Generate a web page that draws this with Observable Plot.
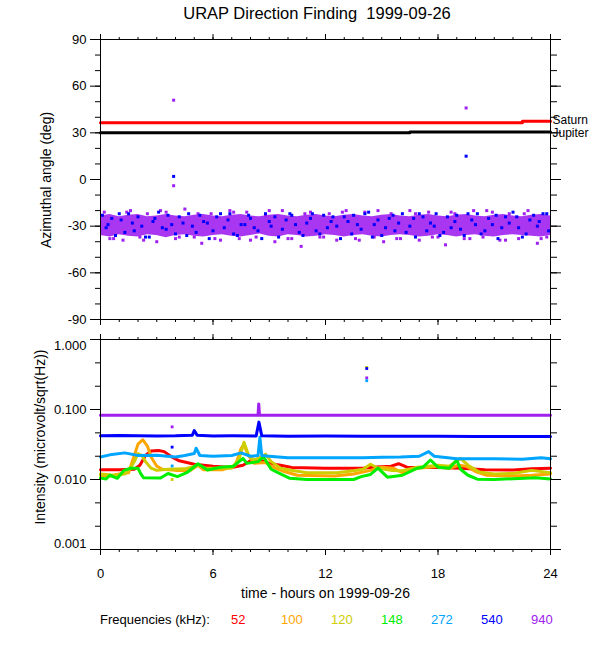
<!DOCTYPE html>
<html><head><meta charset="utf-8">
<script src="https://cdn.jsdelivr.net/npm/d3@7"></script>
<script src="https://cdn.jsdelivr.net/npm/@observablehq/plot@0.6"></script>
<style>
body{margin:0;background:#fff;}
#wrap{position:relative;width:600px;height:650px;font-family:"Liberation Sans",Arial,Helvetica,sans-serif;color:#000;overflow:hidden;}
#wrap svg{position:absolute;left:0;overflow:visible;}
.t{position:absolute;white-space:nowrap;line-height:20px;}
</style></head><body>
<div id="wrap">
  <div class="t" style="left:0;width:634px;top:3px;text-align:center;font-size:16.5px;">URAP Direction Finding&nbsp; 1999-09-26</div>
  <div class="t" style="left:46px;top:180px;font-size:14px;transform:translate(-50%,-50%) rotate(-90deg);">Azimuthal angle (deg)</div>
  <div class="t" style="left:40px;top:437px;font-size:14px;transform:translate(-50%,-50%) rotate(-90deg);">Intensity (microvolt/sqrt(Hz))</div>
  <div class="t" style="left:0;width:651px;top:583px;text-align:center;font-size:14px;">time - hours on 1999-09-26</div>
  <div id="legend"></div>
</div>
<script>
// ---------- data ----------
const hourMajor = [0, 6, 12, 18, 24];
const hourMinor = d3.range(0, 25, 1);
const angleMajor = [-90, -60, -30, 0, 30, 60, 90];
const angleMinor = d3.range(-90, 91, 10);
const intMajor = [1, 0.1, 0.01, 0.001];
const intMinor = [0.464, 0.215, 0.0464, 0.0215, 0.00464, 0.00215];

// planets (top panel)
const saturnHours = [0, 22.5, 22.5, 24];
const saturnAngles = [36.5, 36.5, 37.5, 37.5];
const jupiterHours = [0, 16.5, 16.5, 24];
const jupiterAngles = [30, 30, 30.5, 30.5];
const planetNames = ["Saturn", "Jupiter"];
const planetLabelAngles = [37.5, 30.5];

// direction-finding band (dense core of the 940/540 kHz points), every half hour
const bandHours = d3.range(0, 24.01, 0.5);
const bandLo = [-36,-37,-35.5,-36.5,-37,-35.5,-36,
  -37.5,-36,-35.5,-36.5,-37,-36,-35.5,
  -36.5,-37,-36,-35,-36.5,-37,-35.5,
  -36,-37,-36.5,-35.5,-36,-37,-36,
  -35.5,-36.5,-37,-36,-35.5,-36,-37,
  -36.5,-35.5,-36,-37,-36,-35.5,-36.5,
  -37,-36,-35.5,-36,-36.5,-37,-36];
const bandHi = [-23.5,-22.5,-24,-23,-22.5,-24,-23.5,
  -22.5,-23.5,-24,-23,-22.5,-23.5,-24,
  -23,-22.5,-23.5,-24,-23,-22.5,-23.5,
  -24,-23,-22.5,-23.5,-24,-23,-22.5,
  -23.5,-24,-23,-22.5,-23.5,-24,-23,
  -22.5,-23.5,-24,-23,-22.5,-23.5,-24,
  -23,-22.5,-23.5,-24,-23,-22.5,-23.5];

// 540 kHz direction points
const blueHours = [0.1,0.4,0.8,1.1,1.5,1.8,2.2,2.6,2.9,3.3,3.6,4.0,4.4,4.7,5.1,5.5,5.8,6.2,6.6,6.9,7.3,7.7,8.0,8.4,8.8,9.1,9.5,9.9,10.2,10.6,11.0,11.3,11.7,12.1,12.4,12.8,13.2,13.5,13.9,14.3,14.6,15.0,15.4,15.7,16.1,16.5,16.8,17.2,17.6,17.9,18.3,18.7,19.0,19.4,19.8,20.1,20.5,20.9,21.2,21.6,22.0,22.3,22.7,23.1,23.4,23.8,
  0.3,0.6,1.0,1.3,1.7,2.0,2.4,2.8,3.1,3.5,3.8,4.2,4.6,4.9,5.3,5.7,6.0,6.4,6.8,7.1,7.5,7.9,8.2,8.6,9.0,9.3,9.7,10.1,10.4,10.8,11.2,11.5,11.9,12.3,12.6,13.0,13.4,13.7,14.1,14.5,14.8,15.2,15.6,15.9,16.3,16.7,17.0,17.4,17.8,18.1,18.5,18.9,19.2,19.6,20.0,20.3,20.7,21.1,21.4,21.8,22.2,22.5,22.9,23.3,23.6,23.9,
  3.9, 19.5];
const blueAngles = [-23,-29,-36,-26,-22,-33,-30,-37,-25,-31,-23,-35,-28,-22,-34,-27,-38,-24,-31,-22,-36,-29,-25,-33,-22,-30,-37,-26,-23,-34,-28,-22,-35,-31,-24,-38,-27,-23,-32,-21,-29,-36,-25,-33,-22,-30,-37,-24,-28,-22,-34,-31,-23,-36,-26,-22,-33,-29,-38,-24,-21,-31,-35,-23,-27,-22,
  -31,-25,-22,-34,-28,-24,-37,-27,-21,-32,-29,-24,-36,-30,-23,-28,-33,-22,-26,-35,-29,-23,-31,-38,-27,-24,-32,-22,-29,-36,-25,-33,-23,-27,-30,-24,-35,-29,-22,-37,-26,-31,-23,-28,-34,-25,-22,-33,-30,-36,-24,-27,-32,-22,-29,-35,-25,-23,-31,-28,-24,-37,-26,-30,-22,-33,
  2, 15];

// 940 kHz scattered points
const purpleHours = [0.2,0.7,1.2,1.6,2.1,2.5,3.0,3.5,4.0,4.5,5.0,5.4,5.9,6.4,6.9,7.4,7.8,8.3,8.8,9.3,9.7,10.2,10.7,11.2,11.7,12.2,12.6,13.1,13.6,14.1,14.6,15.1,15.5,16.0,16.5,17.0,17.5,18.0,18.4,18.9,19.4,19.9,20.4,20.9,21.3,21.8,22.3,22.8,23.3,23.8,
  0.5,1.4,2.3,3.2,4.2,5.2,6.1,7.1,8.0,9.0,10.0,10.9,11.9,12.9,13.8,14.8,15.8,16.8,17.7,18.7,19.7,20.6,21.6,22.6,23.5,
  3.9, 3.9, 19.5];
const purpleAngles = [-21,-38,-39,-20,-37,-22,-40,-21,-38,-19,-37,-41,-22,-39,-20,-38,-21,-37,-23,-40,-20,-38,-43,-21,-37,-22,-39,-20,-38,-21,-37,-40,-22,-38,-20,-39,-21,-37,-42,-22,-38,-20,-37,-21,-39,-22,-38,-20,-41,-37,
  -38,-21,-39,-20,-37,-22,-38,-21,-39,-20,-38,-22,-37,-21,-39,-20,-38,-22,-37,-21,-38,-20,-39,-22,-38,
  51, -4, 46];

// intensities (bottom panel)
const freqs = ["52", "100", "120", "148", "272", "540", "940"];
const freqColors = ["#ff0000", "#ffa500", "#cdcd00", "#00ee00", "#00a5ff", "#0000ff", "#a020f0"];

const h52 = [0,1.0,1.8,2.1,2.4,2.7,3.1,3.4,3.8,4.2,5.0,6.0,7.0,7.6,8.0,8.5,9.0,9.6,10.2,12,14.0,14.5,15.5,15.9,16.4,17.2,18.0,19.2,20.5,22,23,24];
const v52 = [0.0138,0.0138,0.014,0.016,0.022,0.0255,0.026,0.025,0.021,0.0185,0.0165,0.0155,0.0148,0.016,0.0185,0.019,0.017,0.016,0.0148,0.0145,0.0145,0.015,0.0155,0.0168,0.0148,0.0148,0.0148,0.0145,0.0138,0.0137,0.0142,0.0145];

const h100 = [0,0.5,1.0,1.5,1.8,2.0,2.25,2.5,2.7,3.0,3.3,4.0,4.8,5.2,5.5,6.5,7.2,7.5,7.65,7.9,8.2,8.8,9.2,9.8,10.5,12.5,13.5,14.4,15.0,15.6,16.1,16.9,17.5,18.0,18.6,19.1,19.5,20.0,20.6,22.0,23.0,24];
const v100 = [0.0115,0.0112,0.012,0.0125,0.022,0.032,0.037,0.03,0.021,0.0155,0.014,0.0135,0.0135,0.016,0.0138,0.0138,0.016,0.028,0.031,0.022,0.017,0.0175,0.015,0.013,0.0115,0.0112,0.012,0.0135,0.015,0.0145,0.0125,0.0145,0.015,0.0155,0.0145,0.016,0.0155,0.013,0.0115,0.0112,0.0115,0.012];

const h120 = [0,0.7,1.3,1.6,1.8,2.0,2.2,2.4,2.7,3.0,3.6,4.5,5.2,5.6,7.0,7.4,7.65,7.9,8.2,8.6,8.8,9.1,9.6,10.1,11,12.6,13.5,14.0,14.4,14.8,15.5,16.1,16.9,17.5,18.0,18.6,19.2,19.6,20.2,21,22,23,24];
const v120 = [0.012,0.0115,0.012,0.0145,0.018,0.0235,0.022,0.018,0.0145,0.0135,0.014,0.0142,0.016,0.0145,0.0145,0.02,0.034,0.022,0.019,0.021,0.023,0.018,0.0145,0.0137,0.0125,0.0125,0.0133,0.014,0.0165,0.0145,0.0135,0.0133,0.015,0.0155,0.016,0.0155,0.02,0.016,0.0128,0.012,0.0122,0.0135,0.0125];

const h148 = [0,0.3,0.5,0.9,1.25,1.6,2.0,2.15,2.3,3.2,3.6,4.1,4.6,5.2,5.7,6.4,7.1,7.6,7.8,8.4,8.7,9.1,9.6,10.1,11,13.5,13.9,14.4,14.8,15.3,16.1,16.9,17.2,17.6,18.0,18.6,19.0,19.2,19.6,20.1,21,23.2,24];
const v148 = [0.0105,0.0102,0.0115,0.0104,0.0135,0.0145,0.0145,0.012,0.0106,0.0105,0.0122,0.011,0.0125,0.0168,0.0137,0.015,0.0155,0.02,0.017,0.018,0.021,0.014,0.012,0.0104,0.01,0.01,0.011,0.0118,0.0145,0.0108,0.0115,0.0145,0.015,0.019,0.015,0.0145,0.019,0.014,0.0115,0.0101,0.01,0.0106,0.0102];

const h272 = [0,0.5,1.3,2.0,3,4.0,4.5,5.0,5.1,5.3,6,7,7.5,8.0,8.4,8.5,8.6,9,10,12,14,15,16,17,17.5,17.8,19,21,22.5,23.5,24];
const v272 = [0.021,0.0225,0.024,0.022,0.0222,0.021,0.022,0.0235,0.028,0.022,0.0215,0.022,0.024,0.0215,0.022,0.04,0.022,0.0215,0.0205,0.0205,0.0205,0.0208,0.021,0.0215,0.025,0.0215,0.0198,0.0198,0.0195,0.0205,0.0198];

const h540 = [0,1,2,3,4,4.9,5.0,5.15,6,7,8.3,8.45,8.6,10,12,14,16,18,20,22,24];
const v540 = [0.042,0.0425,0.042,0.0418,0.042,0.043,0.05,0.043,0.0418,0.042,0.0418,0.066,0.042,0.0415,0.0418,0.0415,0.0415,0.0415,0.041,0.041,0.041];

const h940 = [0,4,8,8.4,8.44,8.48,12,16,20,24];
const v940 = [0.083,0.083,0.083,0.083,0.12,0.083,0.083,0.083,0.083,0.083];

// isolated intensity points
const spotHours = [3.82, 3.82, 3.82, 3.82, 14.2, 14.2, 14.2, 14.2, 8.5, 8.5];
const spotValues = [0.0565, 0.029, 0.0156, 0.0100, 0.40, 0.385, 0.283, 0.258, 0.03, 0.035];
const spotFreqs = ["940", "540", "272", "120", "120", "540", "940", "272", "272", "272"];

// ---------- build tables ----------
const font = '"Liberation Sans",Arial,Helvetica,sans-serif';
const pts = (hs, vs) => hs.map((h, i) => ({h, v: vs[i]}));
const band = bandHours.map((h, i) => ({h, lo: bandLo[i], hi: bandHi[i]}));
const blue = pts(blueHours, blueAngles);
const purple = pts(purpleHours, purpleAngles);
const saturn = pts(saturnHours, saturnAngles);
const jupiter = pts(jupiterHours, jupiterAngles);
const planetLabels = planetNames.map((n, i) => ({h: 24, v: planetLabelAngles[i], n, dy: i === 0 ? -1.5 : 1.5}));
const colorOf = Object.fromEntries(freqs.map((f, i) => [f, freqColors[i]]));
const series = {
  "52": pts(h52, v52), "100": pts(h100, v100), "120": pts(h120, v120), "148": pts(h148, v148),
  "272": pts(h272, v272), "540": pts(h540, v540), "940": pts(h940, v940)
};
const spots = spotHours.map((h, i) => ({h, v: spotValues[i], f: spotFreqs[i]}));
const blank = () => "";

const wrap = document.getElementById("wrap");

const topPlot = Plot.plot({
  width: 600, height: 330,
  marginTop: 39, marginBottom: 11, marginLeft: 100, marginRight: 50,
  style: {fontFamily: font, fontSize: "13px", background: "transparent", color: "#000"},
  x: {domain: [0, 24]},
  y: {domain: [-90, 90]},
  marks: [
    Plot.areaY(band, {x: "h", y1: "lo", y2: "hi", fill: "#a020f0", fillOpacity: 0.9}),
    Plot.dot(purple, {x: "h", y: "v", symbol: "square", r: 1.7, fill: "#a020f0"}),
    Plot.dot(blue, {x: "h", y: "v", symbol: "square", r: 1.7, fill: "#0000ff"}),
    Plot.line(saturn, {x: "h", y: "v", stroke: "#ff0000", strokeWidth: 3}),
    Plot.line(jupiter, {x: "h", y: "v", stroke: "#000", strokeWidth: 3}),
    Plot.text(planetLabels.slice(0, 1), {x: "h", y: "v", text: "n", textAnchor: "start", dx: 2, dy: -1.5, fontSize: 12, fill: "#000"}),
    Plot.text(planetLabels.slice(1), {x: "h", y: "v", text: "n", textAnchor: "start", dx: 2, dy: 1.5, fontSize: 12, fill: "#000"}),
    Plot.frame({stroke: "#000"}),
    Plot.axisX(hourMinor, {anchor: "top", tickSize: 3, tickFormat: blank, label: null}),
    Plot.axisX(hourMajor, {anchor: "top", tickSize: 6, tickFormat: blank, label: null}),
    Plot.axisX(hourMinor, {anchor: "bottom", tickSize: 3, tickFormat: blank, label: null}),
    Plot.axisX(hourMajor, {anchor: "bottom", tickSize: 6, tickFormat: blank, label: null}),
    Plot.axisY(angleMinor, {anchor: "left", tickSize: 5, tickFormat: blank, label: null}),
    Plot.axisY(angleMajor, {anchor: "left", tickSize: 10, tickPadding: 4, tickFormat: d => String(d), label: null}),
    Plot.axisY(angleMinor, {anchor: "right", tickSize: 6, tickFormat: blank, label: null}),
    Plot.axisY(angleMajor, {anchor: "right", tickSize: 10, tickFormat: blank, label: null})
  ]
});
topPlot.style.top = "0px";
wrap.appendChild(topPlot);

const lineMarks = freqs.map(f => Plot.line(series[f], {x: "h", y: "v", stroke: colorOf[f], strokeWidth: 3}));
const bottomPlot = Plot.plot({
  width: 600, height: 320,
  marginTop: 9, marginBottom: 101, marginLeft: 100, marginRight: 50,
  style: {fontFamily: font, fontSize: "13px", background: "transparent", color: "#000"},
  x: {domain: [0, 24]},
  y: {type: "log", domain: [0.001, 1]},
  marks: [
    ...lineMarks,
    Plot.dot(spots, {x: "h", y: "v", symbol: "square", r: 1.6, fill: d => colorOf[d.f]}),
    Plot.frame({stroke: "#000"}),
    Plot.axisX(hourMinor, {anchor: "top", tickSize: 3, tickFormat: blank, label: null}),
    Plot.axisX(hourMajor, {anchor: "top", tickSize: 6, tickFormat: blank, label: null}),
    Plot.axisX(hourMinor, {anchor: "bottom", tickSize: 3, tickFormat: blank, label: null}),
    Plot.axisX(hourMajor, {anchor: "bottom", tickSize: 6, tickPadding: 13, tickFormat: d => String(d), label: null}),
    Plot.axisY(intMinor, {anchor: "left", tickSize: 5, tickFormat: blank, label: null}),
    Plot.axisY(intMajor, {anchor: "left", tickSize: 10, tickFormat: blank, label: null}),
    Plot.axisY([1], {anchor: "left", tickSize: 0, tickPadding: 14, dy: 6, tickFormat: d3.format(".3f"), label: null}),
    Plot.axisY([0.1, 0.01], {anchor: "left", tickSize: 0, tickPadding: 14, tickFormat: d3.format(".3f"), label: null}),
    Plot.axisY([0.001], {anchor: "left", tickSize: 0, tickPadding: 14, dy: -6, tickFormat: d3.format(".3f"), label: null}),
    Plot.axisY(intMinor, {anchor: "right", tickSize: 6, tickFormat: blank, label: null}),
    Plot.axisY(intMajor, {anchor: "right", tickSize: 10, tickFormat: blank, label: null})
  ]
});
bottomPlot.style.top = "330px";
wrap.appendChild(bottomPlot);

// legend
const legend = document.getElementById("legend");
const lab = document.createElement("div");
lab.className = "t";
lab.style.cssText = "left:100px;top:610px;font-size:13px;";
lab.textContent = "Frequencies (kHz):";
legend.appendChild(lab);
freqs.forEach((f, i) => {
  const s = document.createElement("div");
  s.className = "t";
  s.style.cssText = `left:${231 + 50 * i}px;top:610px;font-size:13px;color:${freqColors[i]};`;
  s.textContent = f;
  legend.appendChild(s);
});
</script>
</body></html>
